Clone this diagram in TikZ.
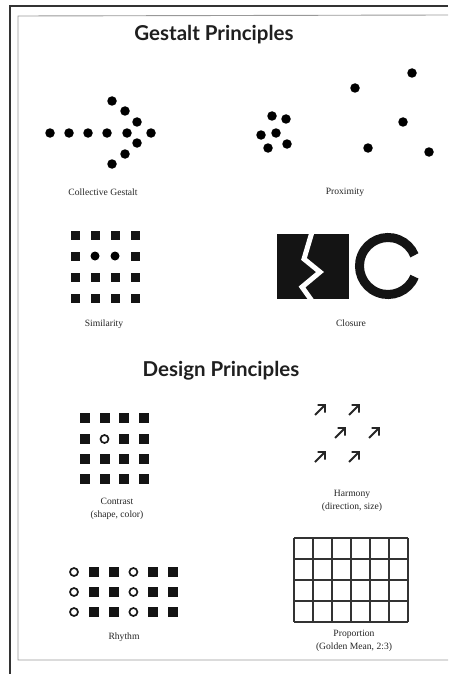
\documentclass[tikz,border=0pt]{standalone}
\usepackage{fontspec}
\setmainfont{Liberation Serif}
\newfontfamily\headfont{Lato}
\usetikzlibrary{positioning}

\begin{document}
\begin{tikzpicture}[x=1pt, y=-1pt,
  heading/.style={font=\headfont\bfseries\fontsize{20.5}{22}\selectfont, text=black!88},
  caption/.style={font=\fontsize{9.6}{13.5}\selectfont, align=center, text=black!85},
  dot/.style={circle, fill=black, inner sep=0pt, minimum size=9.5pt},
  sq/.style={rectangle, fill=black!92, inner sep=0pt, minimum size=10pt},
  hole/.style={circle, draw=black!90, line width=1.7pt, inner sep=0pt, minimum size=8pt},
  harm/.style={line width=1.9pt, black!85, line cap=butt, line join=miter},
  gridline/.style={line width=1.1pt, black!80},
  ]
  \useasboundingbox[fill=white] (0,0) rectangle (448,674);
  \draw[line width=1.4pt, black!80] (10,674) -- (10,6) -- (448,6);
  \draw[line width=0.9pt, black!40] (448,15) -- (18,16) -- (18,660) -- (448,660);

  \node[heading] (gtitle) at (214,35) {Gestalt Principles};
  \node[heading] (dtitle) at (221,371) {Design Principles};

  \foreach \x/\y [count=\i] in {50/133,69/133,88/133,107/133,127/133,151/133,
      112/101,125/111,137/122,137/143,125/154,112/164}
    \node[dot] (cg\i) at (\x,\y) {};
  \node[caption] (cgcap) at (103,192) {Collective Gestalt};

  \foreach \x/\y [count=\i] in {272/116,286/119,261/135,276/133,268/148,287/144,
      355/88,412/73,403/122,368/148,429/152}
    \node[dot] (px\i) at (\x,\y) {};
  \node[caption] (pxcap) at (345,192) {Proximity};

  \foreach \y/\row [count=\j] in {235/{sq,sq,sq,sq},256/{sq,dot,dot,sq},277/{sq,sq,sq,sq},298/{sq,sq,sq,sq}}
    \foreach \k [count=\i] in \row
      \node[\k, minimum size=9pt] (sim\j\i) at ({55+20*\i},\y) {};
  \node[caption] (simcap) at (104,324) {Similarity};

  \node[fill=black!92, minimum width=72pt, minimum height=65pt, inner sep=0pt] (clsq) at (313,266.5) {};
  \draw[white, line width=5pt, line join=miter] (312,232) -- (304,259) -- (320,272) -- (302,287) -- (312,301);
  \coordinate (clc) at (388,266);
  \draw[black!92, line width=9pt] (clc) ++(22:28.5) arc[start angle=22, end angle=338, radius=28.5];
  \node[caption] (clcap) at (351,323) {Closure};

  \foreach \y/\row [count=\j] in {418/{sq,sq,sq,sq},439/{sq,hole,sq,sq},459/{sq,sq,sq,sq},479/{sq,sq,sq,sq}}
    \foreach \k [count=\i] in \row
      \node[\k] (con\j\i) at ({65.5+19.5*\i},\y) {};
  \node[caption] (concap) at (117,509) {Contrast\\(shape, color)};

  \foreach \x/\y [count=\i] in {320/410,354/410,340/433,374/433,320/457,354/457}
    \coordinate (hr\i) at (\x,\y);
  \foreach \i in {1,...,6}
    \draw[harm] (hr\i) ++(-5,5) -- ++(10,-10) ++(-7.5,0) -- ++(7.5,0) -- ++(0,7.5);
  \node[caption] (hrcap) at (352,501) {Harmony\\(direction, size)};

  \foreach \y [count=\j] in {572,592,612}
    \foreach \k [count=\i] in {hole,sq,sq,hole,sq,sq}
      \node[\k] (rh\j\i) at ({54.2+19.8*\i},\y) {};
  \node[caption] (rhcap) at (124,637) {Rhythm};

  \foreach \i in {0,...,6}
    \draw[gridline] ({294+19*\i},538) -- ({294+19*\i},622);
  \foreach \j in {0,...,4}
    \draw[gridline] (294,{538+21*\j}) -- (408,{538+21*\j});
  \node[caption] (prcap) at (354,641) {Proportion\\(Golden Mean, 2:3)};
\end{tikzpicture}
\end{document}
